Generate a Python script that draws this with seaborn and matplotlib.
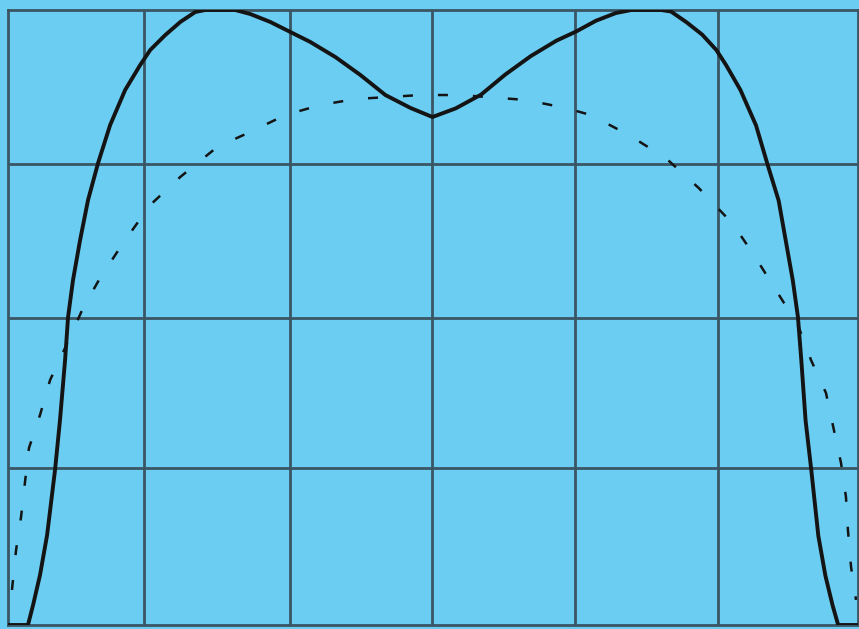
import matplotlib
matplotlib.use("Agg")
import matplotlib.pyplot as plt
import seaborn as sns
import pandas as pd

# Solid trace (grid units: 6 horizontal divisions, 4 vertical divisions)
solid_x = [0.00, 0.141, 0.177, 0.226, 0.276, 0.332, 0.367, 0.403, 0.424, 0.459, 0.509,
           0.565, 0.636, 0.721, 0.827, 0.933, 1.004, 1.110, 1.216, 1.322, 1.392,
           1.604, 1.710, 1.852, 1.993, 2.134, 2.311, 2.488, 2.664, 2.841, 2.996,
           3.160, 3.340, 3.510, 3.690, 3.870, 4.010, 4.150, 4.290, 4.400, 4.610,
           4.680, 4.790, 4.900, 5.000, 5.070, 5.170, 5.280, 5.360, 5.440, 5.490,
           5.540, 5.576, 5.600, 5.630, 5.670, 5.720, 5.770, 5.820, 5.860, 6.00]
solid_y = [0.000, 0.000, 0.130, 0.325, 0.585, 1.008, 1.333, 1.724, 2.003, 2.244, 2.504,
           2.764, 3.005, 3.252, 3.480, 3.642, 3.740, 3.837, 3.922, 3.987, 4.000,
           4.000, 3.974, 3.922, 3.857, 3.792, 3.694, 3.577, 3.447, 3.363, 3.304,
           3.360, 3.450, 3.580, 3.700, 3.800, 3.860, 3.930, 3.980, 4.000, 4.000,
           3.990, 3.920, 3.840, 3.740, 3.640, 3.480, 3.250, 3.000, 2.760, 2.500,
           2.240, 2.003, 1.720, 1.330, 1.010, 0.580, 0.320, 0.130, 0.000, 0.000]

# Dashed trace
dash_x = [0.028, 0.057, 0.092, 0.120, 0.148, 0.226, 0.297, 0.403, 0.530, 0.650,
          0.813, 1.004, 1.216, 1.477, 1.710, 1.958, 2.205, 2.452, 2.912, 3.194,
          3.654, 3.936, 4.113, 4.382, 4.643, 4.876, 5.117, 5.265, 5.420, 5.576,
          5.668, 5.774, 5.830, 5.880, 5.915, 5.929, 5.951, 5.986]
dash_y = [0.228, 0.488, 0.702, 0.930, 1.151, 1.366, 1.593, 1.802, 2.062, 2.257,
          2.485, 2.732, 2.914, 3.109, 3.207, 3.317, 3.382, 3.421, 3.447, 3.447,
          3.415, 3.363, 3.317, 3.187, 3.037, 2.842, 2.608, 2.407, 2.179, 1.951,
          1.724, 1.509, 1.268, 1.054, 0.833, 0.618, 0.377, 0.163]

# Graticule line positions (the screen's ruled divisions are not perfectly even)
grid_x = [0.96, 1.99, 2.99, 4.0, 5.01]
grid_y = [1.02, 2.0, 3.0]

screen = "#6ccdf2"
grid_col = "#3a5563"
trace_col = "#141414"

sns.set_style("white", {"axes.facecolor": screen, "figure.facecolor": screen})

fig = plt.figure(figsize=(8.59, 6.29), dpi=100)
ax = fig.add_axes([8 / 859, 4 / 629, 850 / 859, 615 / 629])

solid = pd.DataFrame({"x": solid_x, "y": solid_y})
dashed = pd.DataFrame({"x": dash_x, "y": dash_y})

sns.lineplot(data=solid, x="x", y="y", sort=False, estimator=None,
             color=trace_col, linewidth=2.8, ax=ax, zorder=4)
sns.lineplot(data=dashed, x="x", y="y", sort=False, estimator=None,
             color=trace_col, linewidth=1.8, ax=ax, zorder=3)
ax.lines[-1].set_linestyle((0, (4, 10)))

ax.set_xlim(0, 6)
ax.set_ylim(0, 4)
ax.set_xticks(grid_x)
ax.set_yticks(grid_y)
ax.grid(True, color=grid_col, linewidth=2.0, zorder=1)
ax.set_axisbelow(True)
ax.tick_params(length=0, labelbottom=False, labelleft=False)
ax.set_xlabel("")
ax.set_ylabel("")
for s in ax.spines.values():
    s.set_visible(True)
    s.set_color(grid_col)
    s.set_linewidth(2.0)

fig.savefig("out.png", dpi=100, facecolor=screen)
